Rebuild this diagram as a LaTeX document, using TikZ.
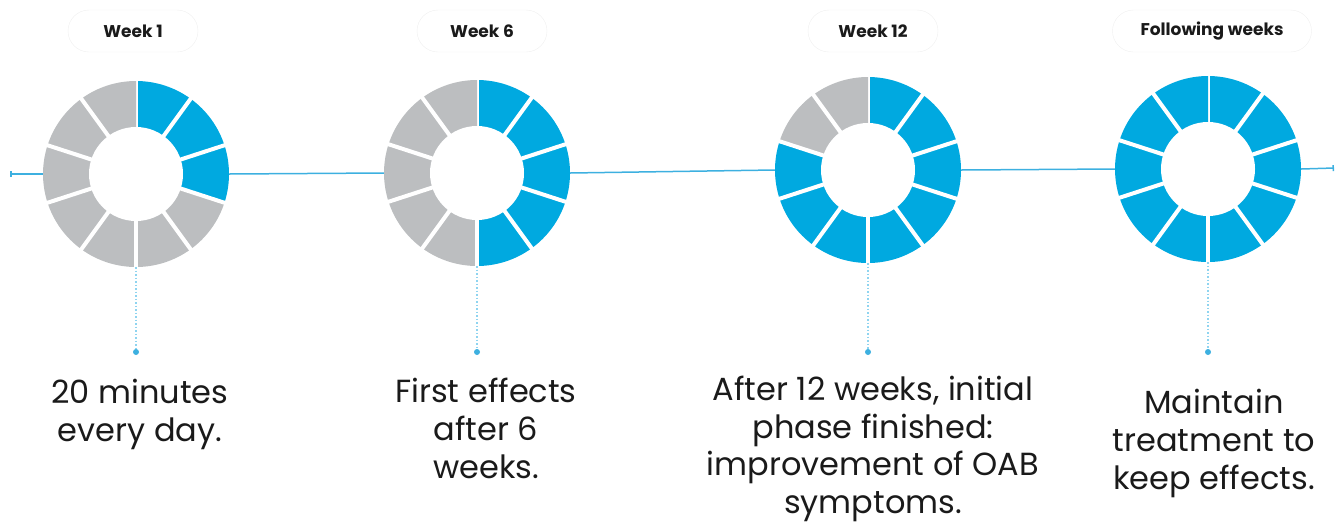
\documentclass[tikz,border=0pt]{standalone}
\usepackage{fontspec}
\setmainfont{Poppins}
\usetikzlibrary{arrows.meta}

\definecolor{ringblue}{HTML}{00A9E0}
\definecolor{ringgray}{HTML}{BCBEC0}
\definecolor{lineblue}{HTML}{3DB0E0}
\definecolor{dotblue}{HTML}{8FD4F0}
\definecolor{pillgray}{HTML}{EFEFEF}
\definecolor{txt}{HTML}{1A1A1A}

\begin{document}
\begin{tikzpicture}[x=1pt,y=-1pt,
        ring/.style={circle,minimum size=186pt,inner sep=0pt},
        pill/.style={draw=pillgray,rounded corners=21pt,minimum width=130pt,minimum height=42pt,
            font=\fontsize{17}{19}\selectfont\bfseries,text=txt},
        caption/.style={align=center,font=\fontsize{32}{38}\selectfont,text=txt,anchor=base},
        timeline/.style={lineblue,line width=1.5pt},
        drop/.style={dotblue,line width=1.5pt,dotted},
        dot/.style={circle,fill=lineblue,inner sep=0pt,minimum size=6pt}]
    \useasboundingbox (0,0) rectangle (1341,523);

    % rings: 10 parts each, filled clockwise from the top
    \foreach \n/\x/\y/\blue in {1/136/174/3, 2/477/173/5, 3/868/170/8, 4/1208/169/10} {
        \node[ring] (r\n) at (\x,\y) {};
        \foreach \k in {0,...,9} {
            \pgfmathsetmacro\a{90-36*\k}
            \ifnum\k<\blue \def\segcol{ringblue}\else \def\segcol{ringgray}\fi
            \fill[\segcol] (r\n.center) -- ++(\a:93pt) arc[start angle=\a,end angle=\a-36,radius=93pt] -- cycle;
            \draw[white,line width=4pt] (r\n.center) -- ++(\a:95pt);
        }
        \fill[white] (r\n.center) circle[radius=47pt];
        \node[dot] (d\n) at (\x,352) {};
        \draw[drop] (r\n.south) -- (d\n);
    }

    % timeline
    \coordinate (tl0) at (10,174);
    \coordinate (tl5) at (1334,168);
    \draw[timeline,{Bar[width=6pt,line width=1.5pt]}-] (tl0) -- (r1.west);
    \draw[timeline] (r1.east) -- (r2.west);
    \draw[timeline] (r2.east) -- (r3.west);
    \draw[timeline] (r3.east) -- (r4.west);
    \draw[timeline,-{Bar[width=6pt,line width=1.5pt]}] (r4.east) -- (tl5);

    % week labels
    \node[pill] (w1) at (133,31) {Week 1};
    \node[pill] (w2) at (482,31) {Week 6};
    \node[pill] (w3) at (873,31) {Week 12};
    \node[pill,minimum width=199pt] (w4) at (1212,31) {Following weeks};

    % captions (base = last line)
    \node[caption] (c1) at (140,441) {20 minutes\\every day.};
    \node[caption] (c2) at (486,478) {First effects\\after 6\\weeks.};
    \node[caption,font=\fontsize{32}{37.5}\selectfont] (c3) at (873,513) {After 12 weeks, initial\\phase finished:\\improvement of OAB\\symptoms.};
    \node[caption] (c4) at (1214,489) {Maintain\\treatment to\\keep effects.};
\end{tikzpicture}
\end{document}
